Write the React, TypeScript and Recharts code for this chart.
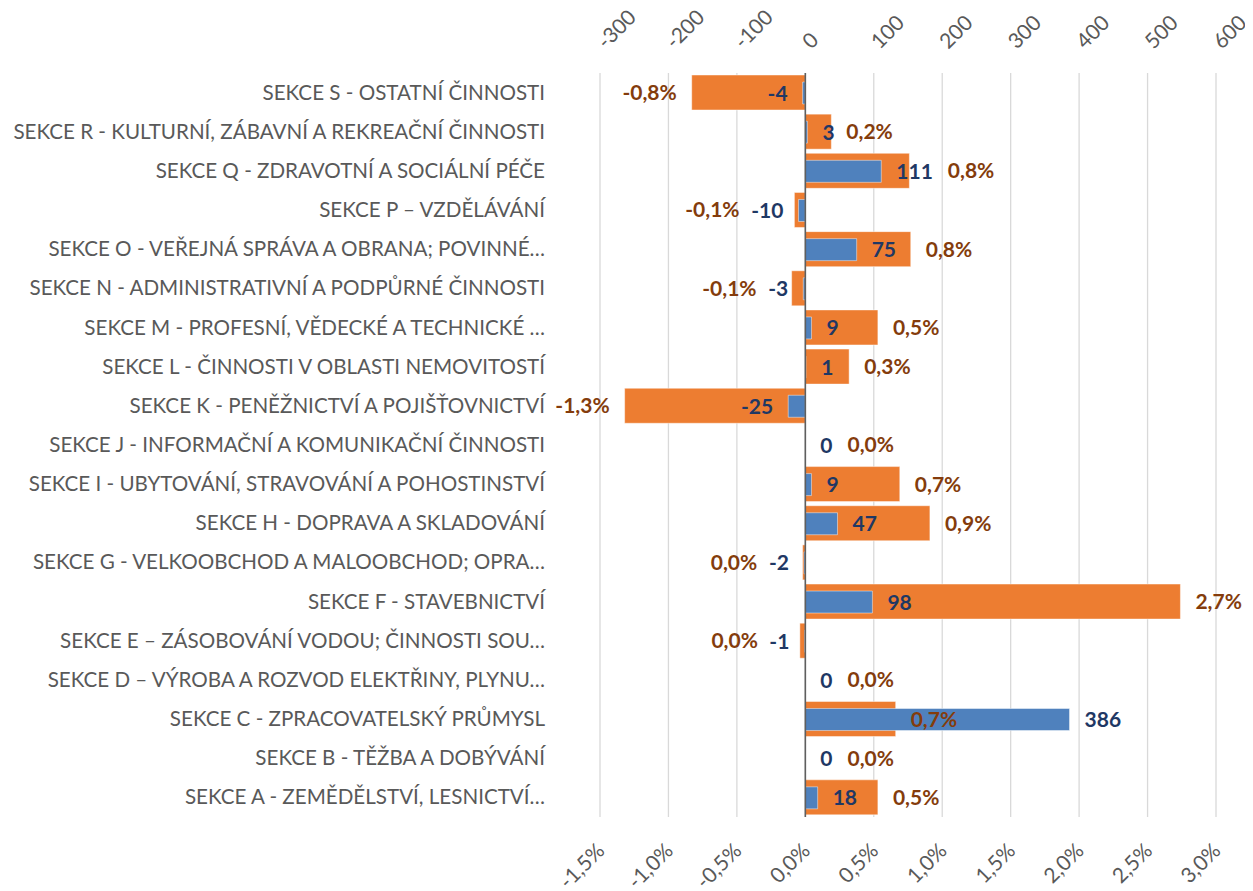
import React from "react";
import {
  BarChart,
  Bar,
  XAxis,
  YAxis,
  CartesianGrid,
  ReferenceLine,
  LabelList,
} from "recharts";

// Sections of the economy, top to bottom
const categories = [
  "SEKCE S - OSTATNÍ ČINNOSTI",
  "SEKCE R - KULTURNÍ, ZÁBAVNÍ A REKREAČNÍ ČINNOSTI",
  "SEKCE Q - ZDRAVOTNÍ A SOCIÁLNÍ PÉČE",
  "SEKCE P – VZDĚLÁVÁNÍ",
  "SEKCE O - VEŘEJNÁ SPRÁVA A OBRANA; POVINNÉ…",
  "SEKCE N - ADMINISTRATIVNÍ A PODPŮRNÉ ČINNOSTI",
  "SEKCE M - PROFESNÍ, VĚDECKÉ A TECHNICKÉ …",
  "SEKCE L - ČINNOSTI V OBLASTI NEMOVITOSTÍ",
  "SEKCE K - PENĚŽNICTVÍ A POJIŠŤOVNICTVÍ",
  "SEKCE J - INFORMAČNÍ A KOMUNIKAČNÍ ČINNOSTI",
  "SEKCE I - UBYTOVÁNÍ, STRAVOVÁNÍ A POHOSTINSTVÍ",
  "SEKCE H - DOPRAVA A SKLADOVÁNÍ",
  "SEKCE G - VELKOOBCHOD A MALOOBCHOD; OPRA…",
  "SEKCE F - STAVEBNICTVÍ",
  "SEKCE E – ZÁSOBOVÁNÍ VODOU; ČINNOSTI SOU…",
  "SEKCE D – VÝROBA A ROZVOD ELEKTŘINY, PLYNU…",
  "SEKCE C - ZPRACOVATELSKÝ PRŮMYSL",
  "SEKCE B - TĚŽBA A DOBÝVÁNÍ",
  "SEKCE A - ZEMĚDĚLSTVÍ, LESNICTVÍ…",
];

// absolute change (top axis, blue)
const changeAbs = [-4, 3, 111, -10, 75, -3, 9, 1, -25, 0, 9, 47, -2, 98, -1, 0, 386, 0, 18];

// relative change in % (bottom axis, orange)
const changePct = [
  -0.83, 0.19, 0.76, -0.08, 0.77, -0.1, 0.53, 0.32, -1.32, 0, 0.69, 0.91, -0.02, 2.74, -0.04,
  0, 0.66, 0, 0.53,
];

const absTicks = [-300, -200, -100, 0, 100, 200, 300, 400, 500, 600];
const pctTicks = [-1.5, -1, -0.5, 0, 0.5, 1, 1.5, 2, 2.5, 3];

const data = categories.map((name, i) => ({
  name,
  abs: changeAbs[i],
  pct: changePct[i],
}));

const W = 1245;
const H = 883;
const Y_W = 592;
const M_RIGHT = 37;
const TOP_H = 65;
const BOTTOM_H = 74;
const PLOT_W = W - Y_W - M_RIGHT;

const pxPerAbs = PLOT_W / (absTicks[absTicks.length - 1] - absTicks[0]);

const FONT = "Lato, 'Open Sans', sans-serif";
const GRAY = "#595959";
const BLUE = "#4F81BD";
const ORANGE = "#ED7D31";
const BLUE_TXT = "#1F3864";
const ORANGE_TXT = "#843C0C";
const LBL_SIZE = 21;
const GAP = 15;

const fmtPct = (v: number) => {
  let s = v.toFixed(1);
  if (s === "-0.0") s = "0.0";
  return s.replace(".", ",") + "%";
};

// rough width of bold label text
const textWidth = (s: string) => {
  let w = 0;
  for (const ch of s) {
    if (ch === "%") w += 0.82;
    else if (ch === ",") w += 0.26;
    else if (ch === "-") w += 0.36;
    else w += 0.58;
  }
  return w * LBL_SIZE;
};

const barEnds = (props: any, v: number) => {
  const vb = props.viewBox || props;
  const a = vb.x;
  const b = vb.x + vb.width;
  const cy = vb.y + vb.height / 2;
  if (v === 0) return { zero: Math.min(a, b), end: Math.min(a, b), cy };
  if (v < 0) return { zero: Math.max(a, b), end: Math.min(a, b), cy };
  return { zero: Math.min(a, b), end: Math.max(a, b), cy };
};

const blueLabelBox = (zero: number, v: number) => {
  const end = zero + v * pxPerAbs;
  const w = textWidth(String(v));
  if (v < 0) return { start: end - GAP - w, stop: end - GAP };
  return { start: end + GAP, stop: end + GAP + w };
};

const AbsLabel = (props: any) => {
  const i = props.index;
  const v = changeAbs[i];
  const { end, cy } = barEnds(props, v);
  const neg = v < 0;
  return (
    <text
      x={neg ? end - GAP : end + GAP}
      y={cy}
      dy={-1}
      textAnchor={neg ? "end" : "start"}
      dominantBaseline="central"
      fontFamily={FONT}
      fontWeight={700}
      fontSize={LBL_SIZE}
      fill={BLUE_TXT}
    >
      {v}
    </text>
  );
};

const PctLabel = (props: any) => {
  const i = props.index;
  const v = changePct[i];
  const { zero, end, cy } = barEnds(props, v);
  const label = fmtPct(v);
  const w = textWidth(label);
  const blue = blueLabelBox(zero, changeAbs[i]);
  let x: number;
  let anchor: "start" | "end";
  if (v < 0) {
    x = end - GAP;
    anchor = "end";
    if (changeAbs[i] < 0 && x > blue.start && x - w < blue.stop) x = blue.start - 12;
  } else {
    x = end + GAP;
    anchor = "start";
    if (changeAbs[i] >= 0 && x < blue.stop && x + w > blue.start) x = blue.stop + GAP;
  }
  return (
    <text
      x={x}
      y={cy}
      dy={-1}
      textAnchor={anchor}
      dominantBaseline="central"
      fontFamily={FONT}
      fontWeight={700}
      fontSize={LBL_SIZE}
      fill={ORANGE_TXT}
    >
      {label}
    </text>
  );
};

const CategoryTick = (props: any) => {
  const { y, payload } = props;
  return (
    <text
      x={Y_W - 55}
      y={y}
      dy={-1}
      textAnchor="end"
      dominantBaseline="central"
      fontFamily={FONT}
      fontSize={20.6}
      fill={GRAY}
    >
      {payload.value}
    </text>
  );
};

const TopTick = (props: any) => {
  const { x, payload } = props;
  const ty = TOP_H - 29;
  return (
    <text
      x={x}
      y={ty}
      transform={`rotate(-45, ${x}, ${ty})`}
      textAnchor="start"
      dominantBaseline="central"
      fontFamily={FONT}
      fontSize={21}
      fill={GRAY}
    >
      {payload.value}
    </text>
  );
};

const BottomTick = (props: any) => {
  const { x, payload } = props;
  const ty = H - BOTTOM_H + 29;
  return (
    <text
      x={x}
      y={ty}
      transform={`rotate(-45, ${x}, ${ty})`}
      textAnchor="end"
      dominantBaseline="central"
      fontFamily={FONT}
      fontSize={21}
      fill={GRAY}
    >
      {fmtPct(payload.value)}
    </text>
  );
};

export default function App() {
  return (
    <BarChart
      width={W}
      height={H}
      data={data}
      layout="vertical"
      margin={{ top: 0, right: M_RIGHT, bottom: 0, left: 0 }}
      barCategoryGap={0}
    >
      <CartesianGrid
        vertical
        horizontal={false}
        xAxisId="pct"
        yAxisId="cat"
        stroke="#D9D9D9"
        strokeWidth={1.3}
      />
      <XAxis
        xAxisId="abs"
        orientation="top"
        type="number"
        domain={[absTicks[0], absTicks[absTicks.length - 1]]}
        ticks={absTicks}
        height={TOP_H}
        axisLine={false}
        tickLine={false}
        tick={<TopTick />}
      />
      <XAxis
        xAxisId="pct"
        orientation="bottom"
        type="number"
        domain={[pctTicks[0], pctTicks[pctTicks.length - 1]]}
        ticks={pctTicks}
        height={BOTTOM_H}
        axisLine={false}
        tickLine={false}
        tick={<BottomTick />}
      />
      <YAxis
        yAxisId="cat"
        type="category"
        dataKey="name"
        width={Y_W}
        axisLine={false}
        tickLine={false}
        interval={0}
        tick={<CategoryTick />}
      />
      <YAxis yAxisId="cat2" type="category" dataKey="name" hide />
      <YAxis yAxisId="cat3" type="category" dataKey="name" hide />
      <YAxis yAxisId="cat4" type="category" dataKey="name" hide />

      <Bar
        dataKey="pct"
        xAxisId="pct"
        yAxisId="cat"
        fill={ORANGE}
        stroke="#FFFFFF"
        strokeOpacity={0.45}
        strokeWidth={1}
        barSize={35}
        isAnimationActive={false}
      />
      <Bar
        dataKey="abs"
        xAxisId="abs"
        yAxisId="cat2"
        fill={BLUE}
        stroke="#FFFFFF"
        strokeOpacity={0.45}
        strokeWidth={1}
        barSize={22}
        isAnimationActive={false}
      />
      <ReferenceLine x={0} xAxisId="pct" yAxisId="cat" stroke="#5F5F5F" strokeWidth={1.6} />
      {/* transparent copies so that all labels sit above both bar series */}
      <Bar
        dataKey="pct"
        xAxisId="pct"
        yAxisId="cat3"
        fill="none"
        barSize={35}
        minPointSize={1}
        isAnimationActive={false}
      >
        <LabelList dataKey="pct" content={<PctLabel />} />
      </Bar>
      <Bar
        dataKey="abs"
        xAxisId="abs"
        yAxisId="cat4"
        fill="none"
        barSize={22}
        minPointSize={1}
        isAnimationActive={false}
      >
        <LabelList dataKey="abs" content={<AbsLabel />} />
      </Bar>
    </BarChart>
  );
}
